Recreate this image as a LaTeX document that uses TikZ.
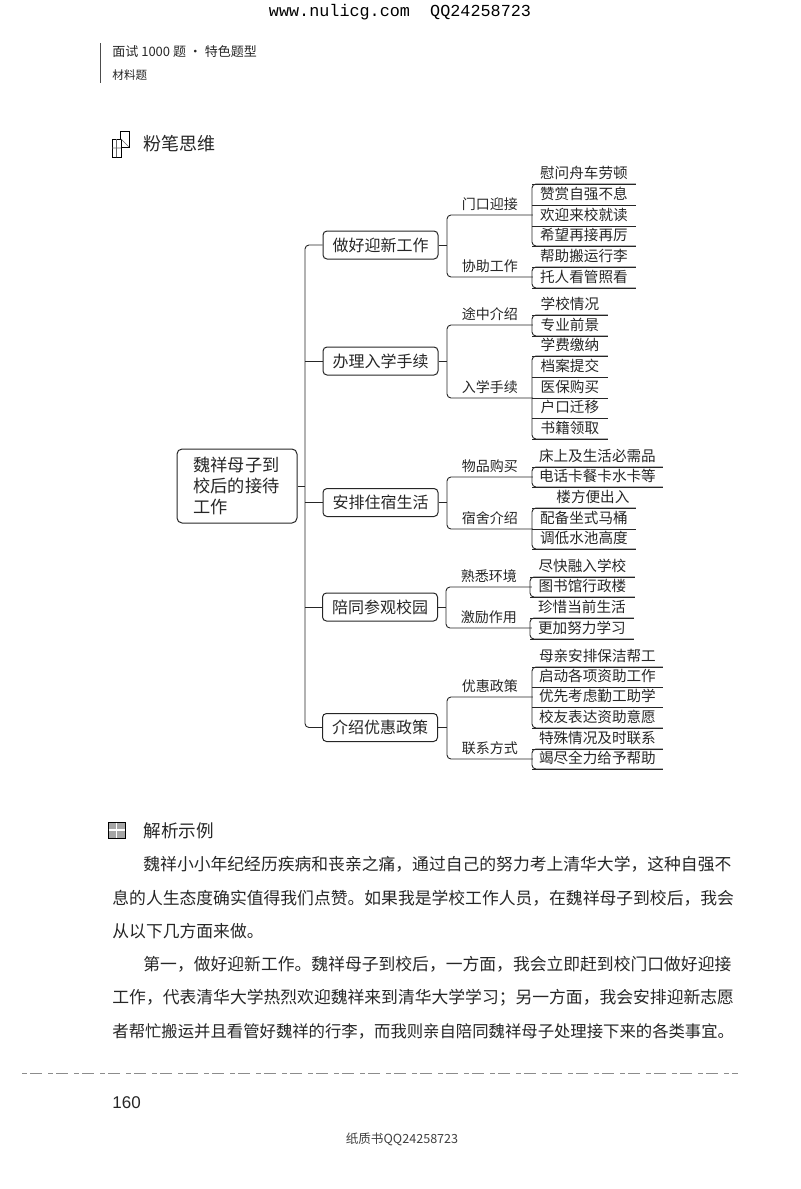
\documentclass[tikz,border=0pt]{standalone}
\usepackage{fontspec}
\setmainfont{Noto Sans CJK SC}
\newfontfamily\urlfont{Liberation Mono}
\newfontfamily\numfont{Liberation Sans}
\usetikzlibrary{positioning,calc}
\tikzset{
  conn/.style={line width=0.45pt, draw=black!85, rounded corners=2pt},
  rootbox/.style={draw=black!85, line width=0.5pt, rounded corners=2.5pt, text=black!85, minimum width=60pt, minimum height=37pt, inner sep=0pt, text width=43.5pt, align=left, font=\fontsize{8.6}{10.5}\selectfont},
  topicbox/.style={draw=black!85, line width=0.5pt, rounded corners=2pt, text=black!85, minimum width=57.5pt, minimum height=14pt, inner sep=0pt, font=\fontsize{8}{10}\selectfont},
  sublabel/.style={anchor=south west, text=black!85, minimum width=42.5pt, minimum height=10pt, inner sep=0pt, font=\fontsize{7}{9}\selectfont},
  leaf/.style={anchor=south west, text=black!85, minimum width=#1*0.5pt, minimum height=10.4pt, inner sep=0pt, font=\fontsize{7.3}{9}\selectfont},
  body/.style={anchor=west, text=black!85, inner sep=0pt, font=\fontsize{8.4}{10}\selectfont},
  headtext/.style={anchor=west, text=black!85, inner sep=0pt}
}
\begin{document}
\begin{tikzpicture}[x=0.5pt,y=-0.5pt]
  \useasboundingbox (0,0) rectangle (800,1189);

  % 页眉
  \node[inner sep=0pt, font=\urlfont\fontsize{8.4}{10}\selectfont] (url) at (400,12) {www.nulicg.com\ \ QQ24258723};
  \draw[black!70, line width=0.5pt] (100,43) -- (100,83);
  \node[headtext, font=\fontsize{6.5}{8}\selectfont] (book) at (112,52) {面试 1000 题 · 特色题型};
  \node[headtext, font=\fontsize{5.8}{7}\selectfont] (part) at (112,75) {材料题};

  % 小标题
  \draw[line width=0.35pt] (120,131) rectangle (129,147);
  \draw[line width=0.35pt, fill=white] (112,139) rectangle (121,157);
  \draw[line width=0.3pt, black!60] (112,148) -- (121,148) (116.5,139) -- (116.5,157) (121,139) -- (129,147);
  \node[headtext, font=\fontsize{9}{11}\selectfont] (think) at (143,144) {粉笔思维};

  \draw[line width=0.4pt, fill=black!35] (108,822) rectangle (125,838);
  \draw[line width=0.8pt, white] (116.5,822.5) -- (116.5,837.5) (108.5,830) -- (124.5,830);
  \node[headtext, font=\fontsize{8.8}{11}\selectfont] (analysis) at (143,831) {解析示例};

  % 根节点
  \node[rootbox] (root) at (237,486) {魏祥母子到\\校后的接待\\工作};

  % 第一层
  \foreach \name/\x/\y/\label in {
    topicA/380.5/245/做好迎新工作, topicB/380.5/361/办理入学手续,
    topicC/380.5/502.5/安排住宿生活, topicD/380/607/陪同参观校园,
    topicE/380/727.5/介绍优惠政策} {
    \node[topicbox] (\name) at (\x,\y) {\label};
  }
  \coordinate (trunk) at (305,486);
  \draw[conn] (root.east) -- (trunk);
  \draw[conn] (topicA.west) -| (trunk) |- (topicE.west);
  \foreach \name in {topicB,topicC,topicD} {
    \draw[conn] (\name.west) -- (\name.west -| trunk);
  }

  % 第二层
  \foreach \name/\x/\y/\label in {
    subA/447/215/门口迎接, subB/447/277/协助工作,
    subC/447/325/途中介绍, subD/447/398/入学手续,
    subE/447/477/物品购买, subF/447/529/宿舍介绍,
    subG/446/587/熟悉环境, subH/446/628/激励作用,
    subI/447/697/优惠政策, subJ/447/759/联系方式} {
    \node[sublabel] (\name) at (\x,\y) {\label};
  }
  \foreach \topic/\up/\down in {topicA/subA/subB, topicB/subC/subD, topicC/subE/subF, topicD/subG/subH, topicE/subI/subJ} {
    \draw[conn] (\up.south east) -- (\up.south west) -- (\down.south west) -- (\down.south east);
    \draw[conn] (\topic.east) -- (\topic.east -| \up.south west);
  }

  % 第三层
  \foreach \name/\x/\y/\w/\label in {
    a1/532/184/103/慰问舟车劳顿, a2/532/205/103/赞赏自强不息, a3/532/226/103/欢迎来校就读, a4/532/246/103/希望再接再厉,
    a5/532/267/103/帮助搬运行李, a6/532/288/103/托人看管照看,
    b1/532/315/75/学校情况, b2/532/336/75/专业前景,
    b3/532/356/75/学费缴纳, b4/532/377/75/档案提交, b5/532/398/75/医保购买, b6/532/418/75/户口迁移, b7/532/439/75/书籍领取,
    c1/532/467/130/床上及生活必需品, c2/532/487/130/电话卡餐卡水卡等,
    c3/532/508/103/\hspace*{9pt}楼方便出入, c4/532/529/103/配备坐式马桶, c5/532/549/103/调低水池高度,
    d1/530/577/104/尽快融入学校, d2/530/597/104/图书馆行政楼,
    d3/530/618/103/珍惜当前生活, d4/530/639/103/更加努力学习,
    e1/532/667/130/母亲安排保洁帮工, e2/532/687/130/启动各项资助工作, e3/532/707/130/优先考虑勤工助学, e4/532/728/130/校友表达资助意愿,
    e5/532/749/130/特殊情况及时联系, e6/532/769/130/竭尽全力给予帮助} {
    \node[leaf=\w] (\name) at (\x,\y) {\label};
    \draw[conn] (\name.south west) -- (\name.south east);
  }
  \foreach \from/\to in {a1/a4, a5/a6, b1/b2, b3/b7, c1/c2, c3/c5, d1/d2, d3/d4, e1/e4, e5/e6} {
    \draw[conn] (\from.south east) -- (\from.south west) -- (\to.south west) -- (\to.south east);
  }

  % 正文
  \node[body] (lineA) at (143,864) {魏祥小小年纪经历疾病和丧亲之痛，通过自己的努力考上清华大学，这种自强不};
  \node[body] (lineB) at (112,898) {息的人生态度确实值得我们点赞。如果我是学校工作人员，在魏祥母子到校后，我会};
  \node[body] (lineC) at (112,931) {从以下几方面来做。};
  \node[body] (lineD) at (143,964) {第一，做好迎新工作。魏祥母子到校后，一方面，我会立即赶到校门口做好迎接};
  \node[body] (lineE) at (112,998) {工作，代表清华大学热烈欢迎魏祥来到清华大学学习；另一方面，我会安排迎新志愿};
  \node[body, font=\fontsize{8.18}{10}\selectfont] (lineF) at (112,1031) {者帮忙搬运并且看管好魏祥的行李，而我则亲自陪同魏祥母子处理接下来的各类事宜。};

  % 页脚
  \draw[black!45, line width=0.5pt, dash pattern=on 2.5pt off 1.5pt on 6pt off 3pt] (22,1073) -- (738,1073);
  \node[headtext, font=\numfont\fontsize{8.5}{10}\selectfont] (page) at (112,1103) {160};
  \node[inner sep=0pt, text=black!75, font=\fontsize{6.3}{8}\selectfont] (foot) at (402,1139) {纸质书QQ24258723};
\end{tikzpicture}
\end{document}
